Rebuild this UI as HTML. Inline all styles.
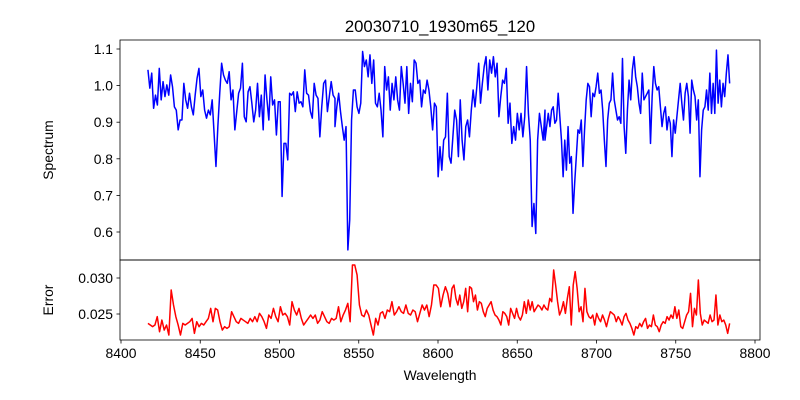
<!DOCTYPE html>
<html><head><meta charset="utf-8"><style>
body{margin:0;background:#fff}
svg{display:block;font-family:"Liberation Sans","DejaVu Sans",sans-serif}
</style></head><body>
<svg id="chart" width="800" height="400" viewBox="0 0 800 400">
<rect width="800" height="400" fill="#fff"/>
<text x="440" y="32" font-size="16.7" text-anchor="middle">20030710_1930m65_120</text>
<g id="topAx"></g>
<g id="botAx"></g>
<text x="0" y="0" font-size="13.9" text-anchor="middle" transform="translate(53,150) rotate(-90)">Spectrum</text>
<text x="0" y="0" font-size="13.9" text-anchor="middle" transform="translate(53,300) rotate(-90)">Error</text>
<text x="440" y="380" font-size="13.9" text-anchor="middle">Wavelength</text>
</svg>
<script>
const xTicks=[8400,8450,8500,8550,8600,8650,8700,8750,8800];
const specTicks=[0.6,0.7,0.8,0.9,1.0,1.1];
const errTicks=[0.025,0.030];
const specSegStart=[8417,8535,8667.5];
const specSegEnd=[8535,8667.5,8784];
const spec1=[1.043,0.993,1.034,0.938,0.974,0.947,1.047,0.961,1.011,0.970,1.002,0.974,1.029,0.997,0.942,0.933,0.879,0.906,0.906,1.006,0.961,0.938,0.979,0.942,0.920,0.974,1.020,1.047,0.970,0.988,0.933,0.911,0.933,0.920,0.961,0.870,0.779,0.888,0.979,1.061,1.029,1.015,1.006,1.038,0.961,0.988,0.879,0.929,0.979,0.993,1.061,0.915,0.901,0.983,0.997,0.952,0.901,0.933,1.006,0.915,0.974,0.879,1.029,0.961,0.906,1.024,0.947,0.961,0.865,0.956,0.956,0.697,0.842,0.842,0.797,0.979,0.974,0.983,0.929,0.983,0.952,0.956,0.942,1.043,0.979,0.974,0.929,0.911,1.006,0.974,0.965,0.860,0.942,1.006,1.015,0.929,0.970,1.011,0.974,0.965];
const spec2=[0.888,0.942,0.979,0.929,0.888,0.851,0.888,0.551,0.633,0.906,0.988,0.988,0.942,0.924,0.952,1.093,1.052,1.070,1.024,1.084,1.006,1.070,0.952,0.942,0.979,0.933,0.860,1.052,0.988,1.024,0.933,1.006,0.961,1.024,0.961,0.933,1.052,1.006,0.952,1.052,0.924,1.006,0.956,1.070,1.061,1.006,1.015,0.942,0.988,0.979,1.015,0.988,0.942,0.879,0.952,0.942,0.751,0.833,0.769,0.851,0.860,0.979,0.806,0.788,0.860,0.933,0.906,0.806,0.961,0.851,0.797,0.888,0.906,0.860,0.933,0.988,0.942,0.997,1.061,0.952,1.006,1.052,1.079,0.988,1.070,1.034,1.079,1.024,1.061,0.915,0.970,1.015,1.006,1.047,0.897,0.952,0.842,0.888,0.851,0.924,0.879,0.924,0.860,0.915,1.052,0.924,0.851,0.615,0.678,0.596,0.851,0.924,0.888,0.851,0.933];
const spec3=[0.851,0.888,0.924,0.888,0.933,0.942,0.897,0.906,0.979,0.915,0.851,0.751,0.851,0.769,0.888,0.788,0.806,0.651,0.733,0.806,0.879,0.870,0.906,0.779,0.879,0.961,1.006,0.997,0.915,0.979,0.970,0.997,1.034,0.979,0.988,0.933,0.851,0.779,0.906,0.952,0.961,1.034,0.961,0.933,0.906,0.915,0.897,1.074,0.888,0.815,0.933,1.015,0.961,1.043,1.079,1.024,0.997,0.952,0.924,1.034,0.961,0.970,0.979,0.988,0.842,0.970,1.052,1.006,0.988,0.997,0.942,0.888,0.924,0.942,0.879,0.915,0.897,0.806,0.906,0.870,0.915,0.961,1.006,0.952,0.906,0.979,1.006,0.970,0.870,1.015,0.988,0.970,0.906,0.961,0.751,0.879,0.933,0.942,0.988,0.933,1.034,0.924,1.006,0.924,1.097,0.952,1.015,0.942,1.006,0.970,1.034,1.084,1.006];
const errSegStart=[8417,8607.6];
const errSegEnd=[8607.6,8784];
const err1=[.02370,.02347,.02324,.02347,.02463,.02254,.02416,.02277,.02347,.02208,.02833,.02625,.02463,.02347,.02208,.02370,.02347,.02370,.02393,.02439,.02231,.02393,.02324,.02370,.02347,.02393,.02439,.02578,.02393,.02578,.02555,.02393,.02277,.02324,.02300,.02324,.02532,.02463,.02393,.02370,.02439,.02416,.02393,.02370,.02439,.02393,.02463,.02393,.02509,.02463,.02393,.02300,.02486,.02439,.02578,.02463,.02393,.02601,.02486,.02509,.02463,.02347,.02671,.02555,.02486,.02578,.02439,.02347,.02393,.02439,.02486,.02439,.02486,.02370,.02416,.02532,.02463,.02393,.02370,.02439,.02416,.02439,.02601,.02393,.02486,.02555,.02648,.02393,.03180,.03180,.03041,.02625,.02486,.02463,.02555,.02486,.02347,.02208,.02439,.02347,.02509,.02532,.02439,.02555,.02532,.02671,.02486,.02532,.02601,.02532,.02509,.02625,.02509,.02486,.02555,.02532,.02393,.02509,.02625,.02555,.02625,.02463,.02625,.02902,.02902,.02856,.02601,.02763,.02879,.02787,.02601];
const err2=[.02601,.02856,.02902,.02717,.02625,.02763,.02578,.02671,.02856,.02532,.02879,.02856,.02671,.02763,.02555,.02671,.02648,.02532,.02463,.02578,.02625,.02671,.02555,.02486,.02463,.02416,.02347,.02532,.02509,.02463,.02347,.02578,.02509,.02439,.02578,.02463,.02416,.02486,.02671,.02509,.02694,.02555,.02671,.02532,.02578,.02625,.02601,.02555,.02625,.02578,.02555,.02717,.02671,.03111,.02902,.02671,.02486,.02555,.02671,.02509,.02717,.02879,.02347,.02902,.03088,.02856,.02532,.02601,.02393,.02856,.02532,.02463,.02439,.02486,.02347,.02509,.02439,.02393,.02486,.02416,.02324,.02439,.02532,.02509,.02486,.02393,.02463,.02416,.02347,.02463,.02509,.02416,.02370,.02300,.02208,.02324,.02300,.02370,.02324,.02393,.02439,.02300,.02347,.02324,.02486,.02347,.02324,.02254,.02347,.02393,.02370,.02463,.02416,.02486,.02439,.02601,.02439,.02555,.02324,.02300,.02393,.02486,.02532,.02787,.02324,.02578,.02486,.02972,.02509,.02347,.02416,.02393,.02370,.02486,.02393,.02416,.02763,.02347,.02486,.02393,.02416,.02347,.02231,.02370];

const NS='http://www.w3.org/2000/svg';
const L=120,R=760,T1=40,B1=260,T2=260,B2=340;
const xs=w=>121+(w-8400)*1.585;
const ys1=v=>49+(1.1-v)*366;
const ys2=v=>278+(0.030-v)*7200;
function mk(tag,attrs,parent){const e=document.createElementNS(NS,tag);for(const k in attrs)e.setAttribute(k,attrs[k]);parent.appendChild(e);return e;}
const topG=document.getElementById('topAx'),botG=document.getElementById('botAx');

function series(segs,starts,ends,ys,color,parent,name){
  let pts=[];
  segs.forEach((arr,s)=>{const n=arr.length;arr.forEach((v,i)=>{const w=starts[s]+(ends[s]-starts[s])*i/(n-1);pts.push(xs(w).toFixed(2)+','+ys(v).toFixed(2));});});
  const p=mk('polyline',{points:pts.join(' '),fill:'none',stroke:color,'stroke-width':1.5,'stroke-linejoin':'round'},parent);
  
  
}
series([spec1,spec2,spec3],specSegStart,specSegEnd,ys1,'#0000ff',topG,'spectrum-line');
series([err1,err2],errSegStart,errSegEnd,ys2,'#ff0000',botG,'error-line');

specTicks.forEach(v=>{const y=ys1(v);
  const t=mk('line',{x1:L-3.5,x2:L,y1:y,y2:y,stroke:'#000','stroke-width':0.8},topG);
  
  
  const tx=mk('text',{x:L-7,y:y+5,'font-size':13.9,'text-anchor':'end'},topG);tx.textContent=v.toFixed(1);
  
  
});
errTicks.forEach(v=>{const y=ys2(v);
  const t=mk('line',{x1:L-3.5,x2:L,y1:y,y2:y,stroke:'#000','stroke-width':0.8},botG);
  
  
  const tx=mk('text',{x:L-7,y:y+5,'font-size':13.9,'text-anchor':'end'},botG);tx.textContent=v.toFixed(3);
  
  
});
xTicks.forEach(w=>{const x=xs(w);
  const t=mk('line',{x1:x,x2:x,y1:B2,y2:B2+3.5,stroke:'#000','stroke-width':0.8},botG);
  
  
  const tx=mk('text',{x:x,y:B2+18,'font-size':13.9,'text-anchor':'middle'},botG);tx.textContent=w;
  
  
});
const f1=mk('rect',{x:L,y:T1,width:R-L,height:B1-T1,fill:'none',stroke:'#000','stroke-width':0.8},topG);


const f2=mk('rect',{x:L,y:T2,width:R-L,height:B2-T2,fill:'none',stroke:'#000','stroke-width':0.8},botG);


</script>
</body></html>
